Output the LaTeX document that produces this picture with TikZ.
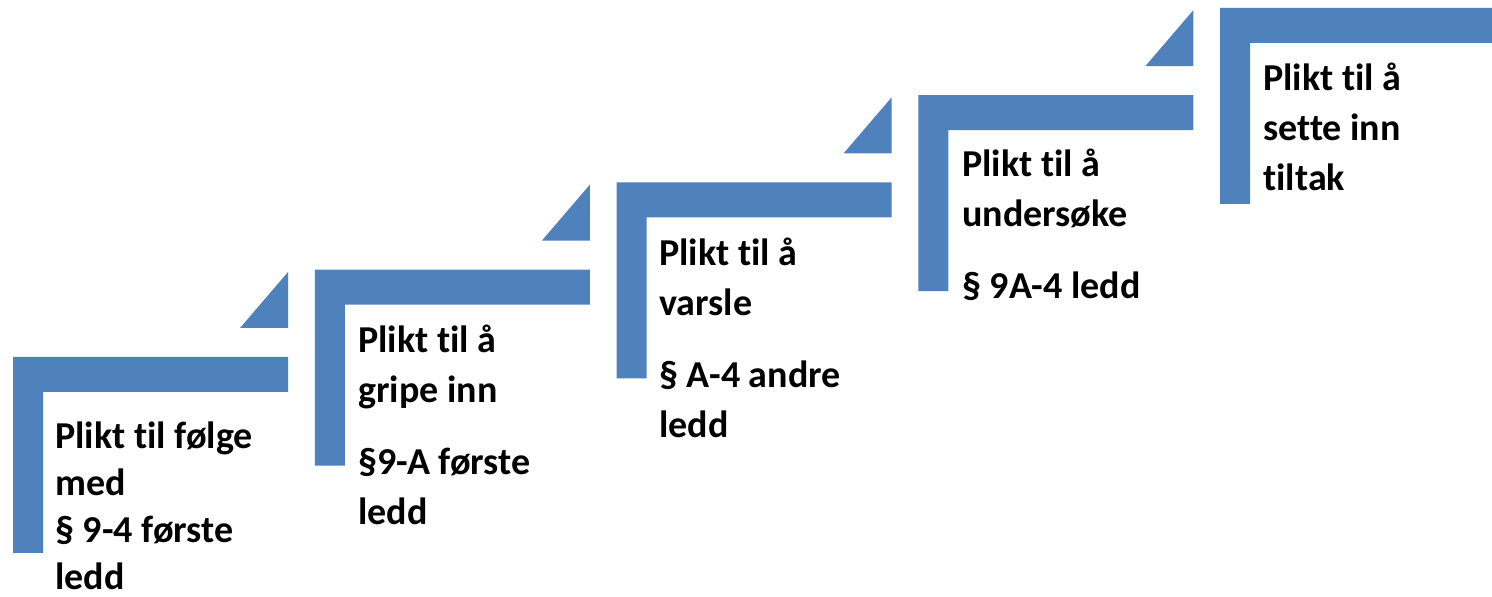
\documentclass[tikz,border=0pt]{standalone}
\usepackage{fontspec}
\setmainfont{Carlito}[Ligatures=NoCommon]
\definecolor{stepblue}{HTML}{4F81BD}
\begin{document}
\begin{tikzpicture}[x=0.5pt,y=-0.5pt,
  stairfill/.style={fill=stepblue},
  steptext/.style={anchor=north west, inner sep=0pt, align=left,
    font=\fontsize{19}{25}\selectfont\bfseries},
  firsttext/.style={steptext, font=\fontsize{19}{23.5}\selectfont\bfseries}]
\useasboundingbox (0,0) rectangle (1492,597);
\clip (0,0) rectangle (1492,597);
\foreach \k in {0,...,4} {
  \pgfmathsetmacro\sx{13+301.75*\k}
  \pgfmathsetmacro\sy{357-87.25*\k}
  \fill[stairfill] (\sx,\sy) -- (\sx+275,\sy) -- (\sx+275,\sy+35) -- (\sx+30,\sy+35)
     -- (\sx+30,\sy+196) -- (\sx,\sy+196) -- cycle;
  \ifnum\k<4
    \fill[stairfill] (\sx+275,\sy-85) -- (\sx+227,\sy-29) -- (\sx+275,\sy-29) -- cycle;
  \fi
}
\node[firsttext] (t1) at (55,418) {\rule{0pt}{15pt}Plikt til følge\\ med\\ § 9-4 første\\ ledd};
\node[steptext] (t2) at (358,322) {\rule{0pt}{15pt}Plikt til å\\ gripe inn\\[11pt] §9-A første\\ ledd};
\node[steptext] (t3) at (659,235) {\rule{0pt}{15pt}Plikt til å\\ varsle\\[11pt] § A-4 andre\\ ledd};
\node[steptext] (t4) at (962,146) {\rule{0pt}{15pt}Plikt til å\\ undersøke\\[11pt] § 9A-4 ledd};
\node[steptext] (t5) at (1263,60) {\rule{0pt}{15pt}Plikt til å\\ sette inn\\ tiltak};
\end{tikzpicture}
\end{document}
